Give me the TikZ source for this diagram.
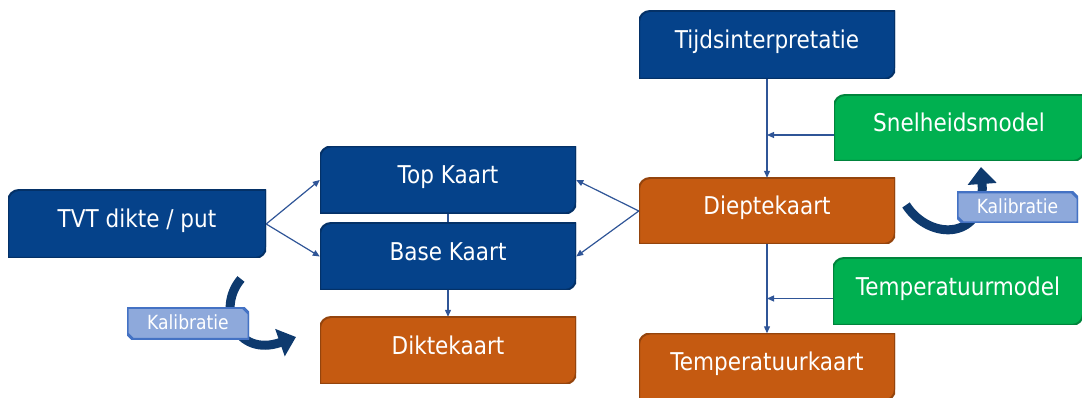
\documentclass[tikz,border=0pt]{standalone}
\usepackage{fontspec}
\setmainfont[FakeStretch=0.88]{DejaVu Sans}
\usetikzlibrary{arrows.meta,backgrounds,calc}
\definecolor{cblue}{RGB}{5,66,138}
\definecolor{corange}{RGB}{197,90,17}
\definecolor{cgreen}{RGB}{0,176,80}
\definecolor{clight}{RGB}{142,169,219}
\definecolor{clightb}{RGB}{68,114,196}
\definecolor{cnavy}{RGB}{14,58,110}
\definecolor{cline}{RGB}{47,85,151}
\tikzset{
  rbox/.style={minimum width=256pt, minimum height=67pt, inner sep=0pt, text=white,
    font=\fontsize{24.5}{28}\selectfont, text height=18pt, text depth=10.5pt,
    path picture={
      \path[fill=#1, draw=#1!75!black, line width=2pt]
        (path picture bounding box.south west)
        -- ([yshift=-11pt]path picture bounding box.north west)
        arc[start angle=180, end angle=90, radius=11pt]
        -- (path picture bounding box.north east)
        -- ([yshift=11pt]path picture bounding box.south east)
        arc[start angle=0, end angle=-90, radius=11pt]
        -- cycle;}},
  tag/.style={minimum width=122pt, minimum height=32pt, inner sep=0pt, text=white,
    font=\fontsize{19.5}{22}\selectfont, text height=14pt, text depth=1pt,
    path picture={
      \path[fill=clight, draw=clightb, line width=3pt]
        ([yshift=6pt]path picture bounding box.south west)
        -- (path picture bounding box.north west)
        -- ([xshift=-6pt]path picture bounding box.north east)
        -- ([yshift=-6pt]path picture bounding box.north east)
        -- (path picture bounding box.south east)
        -- ([xshift=6pt]path picture bounding box.south west)
        -- cycle;}},
  conn/.style={draw=cline, line width=1.2pt, -{Triangle[length=7pt,width=6pt]}},
  bigarrow/.style={draw=cnavy, line width=9pt, -{Triangle[length=17pt,width=28pt]}}
}
\begin{document}
\begin{tikzpicture}[x=1pt,y=1pt]
\useasboundingbox (0,0) rectangle (1082,398);
\clip (0,0) rectangle (1082,398);

% curved calibration arrows (behind the tags)
\coordinate (la) at (241,119);
\coordinate (lb) at (296,61);
\draw[bigarrow] (la) .. controls (216,90) and (236,40) .. (lb);
\coordinate (ra) at (906,193);
\coordinate (rb) at (981,231);
\draw[bigarrow] (ra) .. controls (930,156) and (986,158) .. (rb);

\node[rbox=cblue, minimum width=258pt, minimum height=68pt] (tvt) at (137,174) {TVT dikte / put};
\node[rbox=cblue] (top) at (448,218) {Top Kaart};
\node[rbox=cblue] (base) at (448,141.5) {Base Kaart};
\node[rbox=corange] (dikte) at (448,47.5) {Diktekaart};
\node[rbox=cblue, minimum height=68pt] (tijd) at (767,353) {Tijdsinterpretatie};
\node[rbox=cgreen, minimum width=250pt, minimum height=66pt] (snel) at (959,270) {Snelheidsmodel};
\node[rbox=corange, minimum height=66pt] (diepte) at (767,187) {Dieptekaart};
\node[rbox=cgreen, minimum width=250pt] (tmodel) at (958,106.5) {Temperatuurmodel};
\node[rbox=corange] (tkaart) at (767,31) {Temperatuurkaart};

\node[tag] (kal1) at (188,74.5) {Kalibratie};
\node[tag, minimum width=121pt, minimum height=31pt] (kal2) at (1017.5,190.5) {Kalibratie};

% connectors
\draw[conn] (tvt.east) -- (top.west);
\draw[conn] (tvt.east) -- (base.west);
\draw[conn] (diepte.west) -- (top.east);
\draw[conn] (diepte.west) -- (base.east);
\begin{pgfonlayer}{background}
\draw[conn] (top.south) -- (dikte.north);
\end{pgfonlayer}
\draw[conn] (tijd.south) -- (diepte.north);
\coordinate (j1) at ($(tijd.south |- snel.west)+(0,-7)$);
\draw[conn] ([yshift=-7pt]snel.west) -- (j1);
\draw[conn] (diepte.south) -- (tkaart.north);
\coordinate (j2) at ($(tijd.south |- tmodel.west)+(0,-7)$);
\draw[conn] ([yshift=-7pt]tmodel.west) -- (j2);
\end{tikzpicture}
\end{document}
